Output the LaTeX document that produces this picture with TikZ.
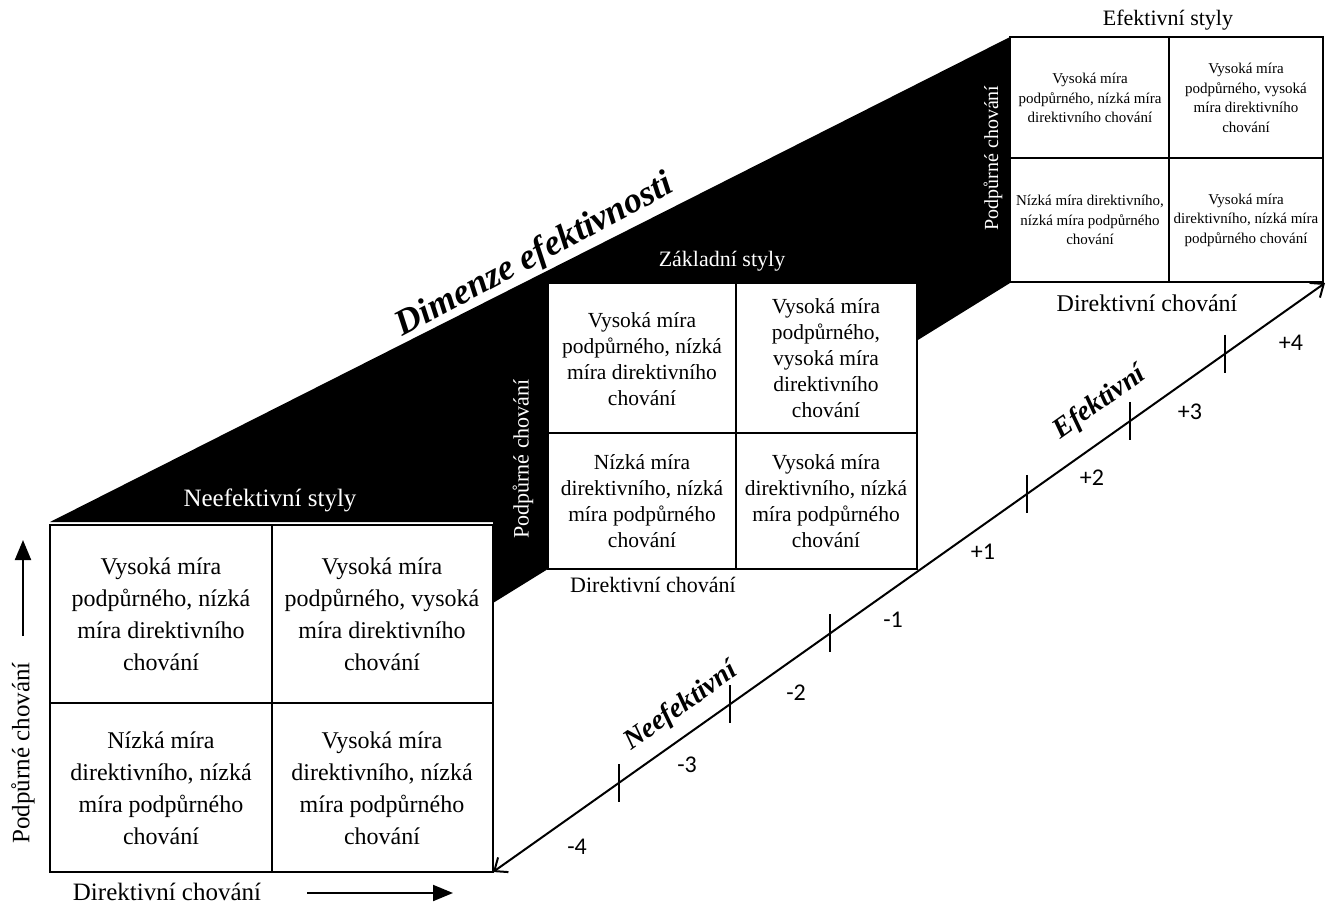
\documentclass[tikz,border=0pt]{standalone}
\usepackage{fontspec}
\setmainfont{Liberation Serif}
\newfontfamily\numfont{Carlito}
\usetikzlibrary{arrows.meta,calc}
\newcommand{\fsz}[2]{\fontsize{#1}{#2}\selectfont}

\begin{document}
\begin{tikzpicture}[x=1pt,y=-1pt,
    every node/.style={inner sep=0pt,align=center},
    frame/.style={line width=1.6pt},
    bigcell/.style={font=\fsz{24}{32}},
    midcell/.style={font=\fsz{21.5}{26}},
    smallcell/.style={font=\fsz{15}{19.5}},
    axislab/.style={font=\fsz{28}{32}\bfseries\itshape,rotate=35.3},
    numlab/.style={font=\numfont\fsz{24}{28}},
    >={Straight Barb[length=11pt,width=18pt]}]
  \useasboundingbox (0,0) rectangle (1330,905);
  % black side of the prism
  \fill (50,522)--(1010,37)--(1010,283)--(493,603)--(493,522)--cycle;
  \node[font=\fsz{36}{40}\bfseries\itshape,rotate=28] (dim) at (535,256) {Dimenze efektivnosti};
  % front box
  \draw[frame,fill=white] (50,525) rectangle (493,872) (272,525)--(272,872) (50,703)--(493,703);
  \node[bigcell] (f11) at (161,614) {Vysoká míra\\podpůrného, nízká\\míra direktivního\\chování};
  \node[bigcell] (f12) at (382,614) {Vysoká míra\\podpůrného, vysoká\\míra direktivního\\chování};
  \node[bigcell] (f21) at (161,788) {Nízká míra\\direktivního, nízká\\míra podpůrného\\chování};
  \node[bigcell] (f22) at (382,788) {Vysoká míra\\direktivního, nízká\\míra podpůrného\\chování};
  \node[white,font=\fsz{25}{28}] (ftitle) at (270,500) {Neefektivní styly};
  \node[rotate=90,font=\fsz{25}{28}] (fsup) at (23,753) {Podpůrné chování};
  \node[font=\fsz{25}{28}] (fdir) at (167,892) {Direktivní chování};
  \coordinate (uptail) at (23,636);
  \coordinate (uphead) at (23,540);
  \coordinate (rttail) at (307,893);
  \coordinate (rthead) at (453,893);
  \draw[line width=2pt,-{Triangle[length=20pt,width=16pt]}] (uptail)--(uphead);
  \draw[line width=2pt,-{Triangle[length=20pt,width=16pt]}] (rttail)--(rthead);
  % middle box
  \draw[frame,fill=white] (548,283) rectangle (917,569) (736,283)--(736,569) (548,433)--(917,433);
  \node[midcell] (m11) at (642,359) {Vysoká míra\\podpůrného, nízká\\míra direktivního\\chování};
  \node[midcell] (m12) at (826,358) {Vysoká míra\\podpůrného,\\vysoká míra\\direktivního\\chování};
  \node[midcell] (m21) at (642,501) {Nízká míra\\direktivního, nízká\\míra podpůrného\\chování};
  \node[midcell] (m22) at (826,501) {Vysoká míra\\direktivního, nízká\\míra podpůrného\\chování};
  \node[white,font=\fsz{22}{26}] (mtitle) at (722,261) {Základní styly};
  \node[white,rotate=90,font=\fsz{22}{26}] (msup) at (523,459) {Podpůrné chování};
  \node[font=\fsz{22}{26}] (mdir) at (653,585) {Direktivní chování};
  % back box
  \draw[frame,fill=white] (1010,37) rectangle (1323,282) (1169,37)--(1169,282) (1010,158)--(1323,158);
  \node[smallcell] (b11) at (1090,98) {Vysoká míra\\podpůrného, nízká míra\\direktivního chování};
  \node[smallcell] (b12) at (1246,98) {Vysoká míra\\podpůrného, vysoká\\míra direktivního\\chování};
  \node[smallcell] (b21) at (1090,220) {Nízká míra direktivního,\\nízká míra podpůrného\\chování};
  \node[smallcell] (b22) at (1246,220) {Vysoká míra\\direktivního, nízká míra\\podpůrného chování};
  \node[font=\fsz{22}{26}] (btitle) at (1168,20) {Efektivní styly};
  \node[white,rotate=90,font=\fsz{20}{24}] (bsup) at (993,158) {Podpůrné chování};
  \node[font=\fsz{24}{28}] (bdir) at (1147,303) {Direktivní chování};
  % effectiveness axis
  \coordinate (fBR) at (493,872);
  \coordinate (bBR) at (1325,283);
  \draw[line width=2pt,<->] (fBR)--(bBR);
  \foreach \t in {0.151,0.285,0.405,0.642,0.766,0.880}
    \draw[line width=2pt] ($(fBR)!\t!(bBR)$) ++(0,-19)--++(0,38);
  \foreach \lab/\x/\y in {-4/577/847,-3/687/765,-2/796/693,-1/893/620,
      +1/983/552,+2/1092/478,+3/1190/412,+4/1291/343}
    \node[numlab] (n\x) at (\x,\y) {\lab};
  \node[axislab] (neef) at (681,707) {Neefektivní};
  \node[axislab] (ef) at (1100,403) {Efektivní};
\end{tikzpicture}
\end{document}
